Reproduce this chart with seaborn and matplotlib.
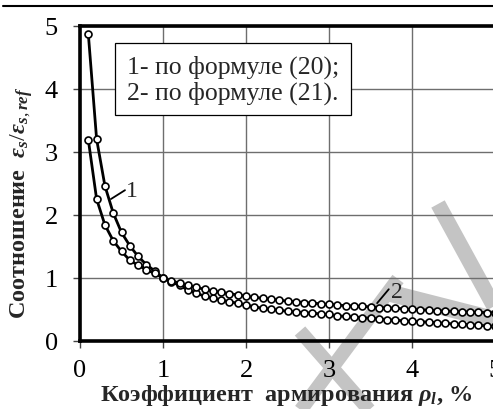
import numpy as np
import pandas as pd
import matplotlib
matplotlib.use("Agg")
import matplotlib.pyplot as plt
from matplotlib.lines import Line2D
from matplotlib.patches import Polygon
import seaborn as sns

# reinforcement ratio, %
rho = [0.1, 0.2, 0.3, 0.4, 0.5, 0.6, 0.7, 0.8, 0.9, 1.0,
       1.1, 1.2, 1.3, 1.4, 1.5, 1.6, 1.7, 1.8, 1.9, 2.0,
       2.1, 2.2, 2.3, 2.4, 2.5, 2.6, 2.7, 2.8, 2.9, 3.0,
       3.1, 3.2, 3.3, 3.4, 3.5, 3.6, 3.7, 3.8, 3.9, 4.0,
       4.1, 4.2, 4.3, 4.4, 4.5, 4.6, 4.7, 4.8, 4.9, 5.0]

# strain ratio by formula (20)
ratio_f20 = [4.87, 3.20, 2.46, 2.03, 1.72, 1.51, 1.34, 1.21, 1.11, 1.00,
             0.94, 0.88, 0.81, 0.76, 0.71, 0.68, 0.65, 0.62, 0.60, 0.57,
             0.54, 0.52, 0.50, 0.49, 0.47, 0.46, 0.45, 0.44, 0.43, 0.42,
             0.40, 0.39, 0.38, 0.37, 0.36, 0.35, 0.34, 0.33, 0.32, 0.31,
             0.305, 0.30, 0.29, 0.28, 0.27, 0.265, 0.26, 0.25, 0.24, 0.23]

# strain ratio by formula (21)
ratio_f21 = [3.19, 2.25, 1.84, 1.59, 1.42, 1.28, 1.20, 1.13, 1.07, 1.00,
             0.95, 0.92, 0.88, 0.85, 0.82, 0.79, 0.77, 0.75, 0.73, 0.71,
             0.69, 0.68, 0.66, 0.65, 0.63, 0.62, 0.61, 0.60, 0.59, 0.58,
             0.57, 0.56, 0.555, 0.55, 0.54, 0.53, 0.525, 0.52, 0.51, 0.50,
             0.495, 0.49, 0.48, 0.475, 0.47, 0.465, 0.46, 0.455, 0.45, 0.45]

ticks = [0, 1, 2, 3, 4, 5]
legend_lines = ["1- по формуле (20);", "2- по формуле (21)."]

sns.set_style("ticks")
plt.rcParams["font.family"] = ["Liberation Serif", "DejaVu Serif"]
plt.rcParams["mathtext.fontset"] = "custom"
plt.rcParams["mathtext.rm"] = "Liberation Serif"
plt.rcParams["mathtext.it"] = "Liberation Serif:italic:bold"
plt.rcParams["mathtext.bf"] = "Liberation Serif:bold"

W, H = 493, 410
fig = plt.figure(figsize=(W / 100, H / 100), dpi=100)

def fx(px):
    return px / W

def fy(py):
    return 1 - py / H

# light watermark strokes behind the plot
wm = "#c4c4c4"
for (x0, y0, x1, y1, lw) in [(398, 280, 300, 412, 10),
                             (300, 332, 370, 412, 10),
                             (438, 205, 502, 322, 11)]:
    fig.add_artist(Line2D([fx(x0), fx(x1)], [fy(y0), fy(y1)], color=wm,
                          lw=lw, solid_capstyle="butt", zorder=-5))
fig.add_artist(Polygon([(fx(378), fy(300)), (fx(393), fy(286)),
                        (fx(495), fy(312)), (fx(495), fy(330))],
                       closed=True, fc=wm, ec="none", zorder=-5))

# rule at the top of the page
fig.add_artist(Line2D([fx(3), fx(493)], [fy(7), fy(7)], color="black",
                      lw=1.5, zorder=1))

ax = fig.add_axes([fx(80), fy(342), (495 - 80) / W, (342 - 26.5) / H])
ax.set_facecolor("none")

df = pd.concat([
    pd.DataFrame({"rho": rho, "ratio": ratio_f20, "curve": "1"}),
    pd.DataFrame({"rho": rho, "ratio": ratio_f21, "curve": "2"}),
])
for name, sub in df.groupby("curve"):
    sns.lineplot(data=sub, x="rho", y="ratio", ax=ax, color="black",
                 linewidth=2.0, marker="o", markersize=5,
                 markerfacecolor="white", markeredgecolor="black",
                 markeredgewidth=1.2, sort=False, legend=False,
                 estimator=None, zorder=3)

ax.set_xlim(0, 5)
ax.set_ylim(0, 5)
ax.set_xticks(ticks)
ax.set_yticks(ticks)
ax.set_xticklabels([str(t) for t in ticks])
ax.set_yticklabels([str(t) for t in ticks])
ax.grid(True, color="#6e6e6e", lw=1.0, zorder=0)
ax.set_axisbelow(True)
for side in ["left", "bottom", "top", "right"]:
    ax.spines[side].set_visible(True)
    ax.spines[side].set_linewidth(2.6)
    ax.spines[side].set_color("black")
ax.tick_params(axis="both", direction="out", length=5, width=1.0,
               color="#444444", labelsize=19, labelcolor="black")
ax.tick_params(axis="y", pad=11)
ax.tick_params(axis="x", pad=8)
ax.set_xlabel("")
ax.set_ylabel("")

# curve labels with leaders
ax.plot([0.373, 0.542], [2.25, 2.39], color="black", lw=1.3, zorder=4)
ax.text(0.62, 2.38, "1", fontsize=17, ha="center", va="center", zorder=4)
ax.plot([3.58, 3.72], [0.60, 0.82], color="black", lw=1.3, zorder=4)
ax.text(3.82, 0.79, "2", fontsize=17, ha="center", va="center", zorder=4)

# legend box
ax.text((127 - 80) / 415, (342 - 80) / 315.5, "\n".join(legend_lines),
        transform=ax.transAxes, fontsize=18.5, ha="left", va="center",
        linespacing=1.15, zorder=5,
        bbox=dict(boxstyle="square,pad=0.45", fc="white", ec="black", lw=0.9))

fig.text(fx(286), fy(396),
         r"Коэффициент  армирования $\rho_l$, %",
         fontsize=17.5, fontweight="bold", ha="center", va="center")
fig.text(fx(22), fy(203),
         r"Соотношение  $\varepsilon_s/\varepsilon_{s,ref}$",
         fontsize=17.5, fontweight="bold", ha="center", va="center",
         rotation=90)

fig.savefig("out.png", dpi=100)
